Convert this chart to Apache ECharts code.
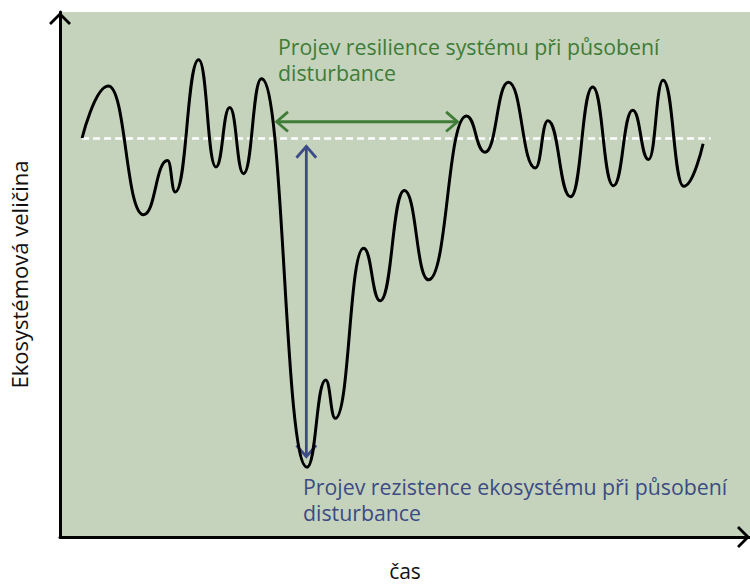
<!DOCTYPE html>
<html>
<head>
<meta charset="utf-8">
<script src="https://cdn.jsdelivr.net/npm/echarts@6/dist/echarts.min.js"></script>
<style>
  html, body { margin: 0; padding: 0; background: #ffffff; }
  #chart { width: 750px; height: 586px; }
</style>
</head>
<body>
<div id="chart"></div>
<script>
// Ecosystem quantity over time: turning points of the trajectory (time, value)
const timePoints = [3.2, 7.0, 12.1, 15.6, 16.7, 20.1, 22.6, 24.6, 26.6, 29.2,
                    35.8, 38.5, 39.9, 44.0, 46.4, 49.9, 53.4, 58.9, 61.6, 65.0,
                    68.9, 70.7, 74.0, 77.2, 80.2, 83.0, 85.3, 87.4, 90.4, 93.2];
const valuePoints = [76.0, 85.9, 61.4, 71.7, 65.7, 90.9, 70.5, 81.8, 69.2, 87.3,
                     13.3, 29.9, 22.6, 55.0, 45.0, 66.0, 49.0, 80.2, 73.3, 86.6,
                     70.3, 79.3, 64.8, 85.7, 66.9, 81.3, 71.9, 87.0, 66.8, 74.9];

// Long-term mean level (dashed reference line)
const baselineLevel = 75.9;
const baselineSpan = [3.2, 94.3];

// Resilience: time span until the system returns to its mean
const resilienceSpan = [31.4, 57.6];
const resilienceLevel = 79.1;

// Resistance: drop from the mean down to the minimum
const resistanceTime = 35.7;
const resistanceRange = [74.4, 15.3];

const xAxisTitle = 'čas';
const yAxisTitle = 'Ekosystémová veličina';
const resilienceLabel = ['Projev resilience systému při působení', 'disturbance'];
const resistanceLabel = ['Projev rezistence ekosystému při působení', 'disturbance'];

const GREEN = '#3e7c38';
const BLUE = '#3d4b84';
const FONT = '"Open Sans", "Noto Sans", sans-serif';
const chevron = 'path://M0,11 L11,0 L22,11 L20,13 L11,4 L2,13 Z';

const curve = timePoints.map((t, i) => [t, valuePoints[i]]);
const baseline = baselineSpan.map(t => [t, baselineLevel]);
const arrows = [
  [resilienceSpan[0], resilienceLevel, resilienceSpan[1], resilienceLevel, 0],
  [resistanceTime, resistanceRange[0], resistanceTime, resistanceRange[1], 1]
];
const arrowColors = [GREEN, BLUE];

function head(tip, dir, len, ang) {
  const c = Math.cos(ang) * len, s = Math.sin(ang) * len;
  const px = -dir[1], py = dir[0];
  return [
    [tip[0] - dir[0] * c + px * s, tip[1] - dir[1] * c + py * s],
    tip,
    [tip[0] - dir[0] * c - px * s, tip[1] - dir[1] * c - py * s]
  ];
}

function renderArrow(params, api) {
  const a = api.coord([api.value(0), api.value(1)]);
  const b = api.coord([api.value(2), api.value(3)]);
  const color = arrowColors[api.value(4)];
  const dx = b[0] - a[0], dy = b[1] - a[1];
  const l = Math.sqrt(dx * dx + dy * dy);
  const d = [dx / l, dy / l];
  const style = { stroke: color, lineWidth: 2.8, fill: null, lineJoin: 'miter', lineCap: 'butt' };
  const ang = 41 * Math.PI / 180;
  return {
    type: 'group',
    children: [
      { type: 'polyline', shape: { points: [a, b] }, style: style },
      { type: 'polyline', shape: { points: head(b, d, 15, ang) }, style: style },
      { type: 'polyline', shape: { points: head(a, [-d[0], -d[1]], 15, ang) }, style: style }
    ]
  };
}

const chart = echarts.init(document.getElementById('chart'), null, { renderer: 'svg' });
chart.setOption({
  animation: false,
  backgroundColor: '#ffffff',
  textStyle: { fontFamily: FONT },
  grid: {
    left: 59, right: 0, top: 12, bottom: 45,
    show: true, backgroundColor: '#c5d3bc', borderWidth: 0
  },
  xAxis: {
    type: 'value', min: 0, max: 100,
    name: xAxisTitle, nameLocation: 'middle', nameGap: 23,
    nameTextStyle: { fontSize: 21, color: '#111', fontFamily: FONT },
    axisLine: {
      show: true, onZero: false,
      symbol: ['none', chevron], symbolSize: [22, 13], symbolOffset: [0, -6.5],
      lineStyle: { color: '#000', width: 3 }
    },
    axisTick: { show: false }, axisLabel: { show: false }, splitLine: { show: false }
  },
  yAxis: {
    type: 'value', min: 0, max: 100,
    name: yAxisTitle, nameLocation: 'middle', nameGap: 30, nameRotate: 90,
    nameTextStyle: { fontSize: 22, color: '#111', fontFamily: FONT },
    axisLine: {
      show: true, onZero: false,
      symbol: ['none', chevron], symbolSize: [22, 13], symbolOffset: [0, -6.5],
      lineStyle: { color: '#000', width: 3 }
    },
    axisTick: { show: false }, axisLabel: { show: false }, splitLine: { show: false }
  },
  graphic: [
    {
      type: 'text', left: 278, top: 33.5,
      style: { text: resilienceLabel.join('\n'), fill: GREEN, font: '21.3px ' + FONT, lineHeight: 26 }
    },
    {
      type: 'text', left: 303, top: 473.5,
      style: { text: resistanceLabel.join('\n'), fill: BLUE, font: '21.3px ' + FONT, lineHeight: 26 }
    }
  ],
  series: [
    {
      type: 'line', data: baseline, symbol: 'none', silent: true,
      lineStyle: { color: '#ffffff', width: 2.4, type: [7, 4] }
    },
    {
      type: 'line', data: curve, symbol: 'none', silent: true,
      smooth: 0.5, smoothMonotone: 'x',
      lineStyle: { color: '#000000', width: 3 }
    },
    {
      type: 'custom', data: arrows, renderItem: renderArrow, silent: true,
      encode: { x: [0, 2], y: [1, 3] }
    }
  ]
});
</script>
</body>
</html>
